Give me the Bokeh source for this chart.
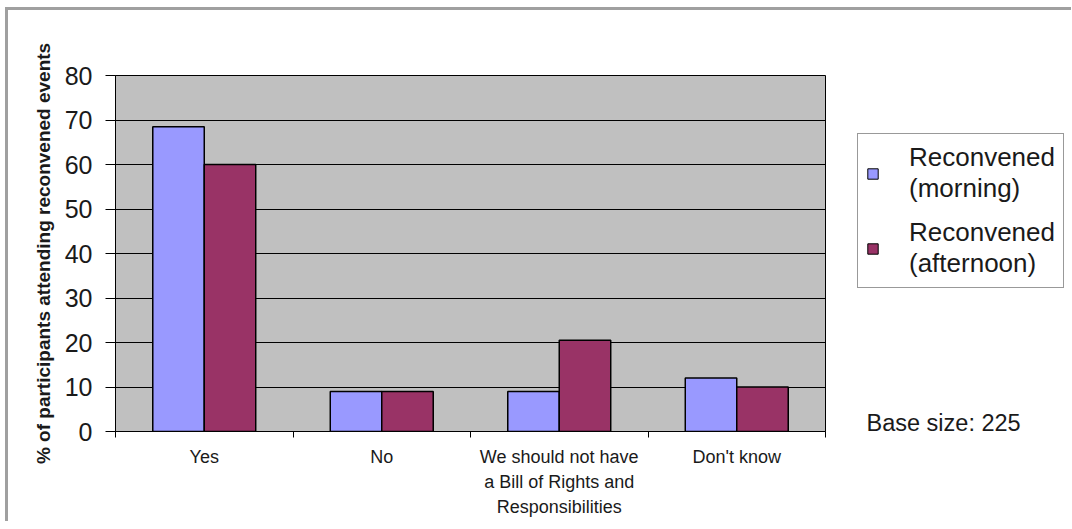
import numpy as np
from bokeh.plotting import figure
from bokeh.layouts import row
from bokeh.models import (ColumnDataSource, FixedTicker, Legend, LegendItem,
                          Label, Range1d)
from bokeh.embed import file_html
from bokeh.resources import INLINE

categories = ["Yes", "No", "We should not have\na Bill of Rights and\nResponsibilities", "Don't know"]
morning = [68.5, 9, 9, 12]
afternoon = [60, 9, 20.5, 10]
series_names = ["Reconvened\n(morning)", "Reconvened\n(afternoon)"]
y_ticks = [0, 10, 20, 30, 40, 50, 60, 70, 80]
base_note = "Base size: 225"

FONT = "Liberation Sans"
MORNING_COLOR = "#9999FF"
AFTERNOON_COLOR = "#993366"
EDGE = "#a0a0a0"

centers = np.arange(len(categories)) + 0.5
bw = 0.29

src_m = ColumnDataSource(dict(x=centers - bw / 2, top=morning))
src_a = ColumnDataSource(dict(x=centers + bw / 2, top=afternoon))

# ---- main chart (canvas starts at page x=8, y=10)
p = figure(width=832, height=514, output_backend="svg", toolbar_location=None,
           min_border_left=107, min_border_right=15, min_border_top=65, min_border_bottom=93,
           x_range=Range1d(0, len(categories)), y_range=Range1d(0, 80),
           margin=(10, 0, 0, 8), frame_align=False,
           styles={"box-shadow": f"-3px -3px 0 0 {EDGE}, 0 -3px 0 0 {EDGE}"})
p.background_fill_color = "#C0C0C0"
p.border_fill_color = "white"
p.outline_line_color = "black"
p.outline_line_width = 1

r_m = p.vbar(x="x", top="top", width=bw, bottom=0, source=src_m,
             fill_color=MORNING_COLOR, line_color="black", line_width=1.5)
r_a = p.vbar(x="x", top="top", width=bw, bottom=0, source=src_a,
             fill_color=AFTERNOON_COLOR, line_color="black", line_width=1.5)

p.xgrid.visible = False
p.ygrid.grid_line_color = "black"
p.ygrid.grid_line_width = 1
p.ygrid.ticker = FixedTicker(ticks=y_ticks)

p.yaxis.ticker = FixedTicker(ticks=y_ticks)
p.yaxis.axis_line_color = "black"
p.yaxis.major_tick_line_color = "black"
p.yaxis.major_tick_in = 0
p.yaxis.major_tick_out = 10
p.yaxis.minor_tick_line_color = None
p.yaxis.major_label_text_font = FONT
p.yaxis.major_label_text_font_size = "25px"
p.yaxis.major_label_text_color = "#1a1a1a"
p.yaxis.major_label_standoff = 13
p.yaxis.axis_label = "% of participants attending reconvened events"
p.yaxis.axis_label_text_font = FONT
p.yaxis.axis_label_text_font_style = "bold"
p.yaxis.axis_label_text_font_size = "19px"
p.yaxis.axis_label_text_color = "#1a1a1a"
p.yaxis.axis_label_standoff = 8

p.xaxis.ticker = FixedTicker(ticks=list(centers),
                             minor_ticks=list(range(len(categories) + 1)))
p.xaxis.major_label_overrides = {float(c): lab for c, lab in zip(centers, categories)}
p.xaxis.axis_line_color = "black"
p.xaxis.major_tick_line_color = None
p.xaxis.minor_tick_line_color = "black"
p.xaxis.minor_tick_in = 0
p.xaxis.minor_tick_out = 6
p.xaxis.major_label_text_font = FONT
p.xaxis.major_label_text_font_size = "18px"
p.xaxis.major_label_text_line_height = 1.25
p.xaxis.major_label_text_color = "#1a1a1a"
p.xaxis.major_label_standoff = 9

# ---- right-hand panel with legend and note (canvas starts at page x=840)
# its ranges lie far from the bar positions, so the legend renderers draw no bars here
p2 = figure(width=231, height=514, output_backend="svg", toolbar_location=None,
            x_range=Range1d(100, 101), y_range=Range1d(100, 101),
            x_axis_type=None, y_axis_type=None, min_border=0, frame_align=False,
            margin=(10, 0, 0, 0), styles={"box-shadow": f"0 -3px 0 0 {EDGE}"})
p2.grid.visible = False
p2.outline_line_color = None
p2.background_fill_color = "white"

leg_m = p2.vbar(x="x", top="top", width=bw, source=src_m,
                fill_color=MORNING_COLOR, line_color="black")
leg_a = p2.vbar(x="x", top="top", width=bw, source=src_a,
                fill_color=AFTERNOON_COLOR, line_color="black")

legend = Legend(items=[LegendItem(label=series_names[0], renderers=[leg_m], index=0),
                       LegendItem(label=series_names[1], renderers=[leg_a], index=0)],
                location=(17, 236))
legend.label_text_font = FONT
legend.label_text_font_size = "26px"
legend.label_text_color = "#1a1a1a"
legend.glyph_width = 13
legend.glyph_height = 13
legend.border_line_color = "#333333"
legend.border_line_width = 1.5
legend.background_fill_color = "white"
legend.background_fill_alpha = 1
legend.padding = 8
legend.spacing = 13
legend.margin = 0
legend.label_standoff = 30
p2.add_layout(legend, "center")

p2.add_layout(Label(x=26, y=102, x_units="screen", y_units="screen", text=base_note,
                    text_font=FONT, text_font_size="23.5px", text_color="#1a1a1a",
                    text_baseline="middle"))

layout = row(p, p2)
open("out.html", "w").write(file_html(layout, INLINE))
